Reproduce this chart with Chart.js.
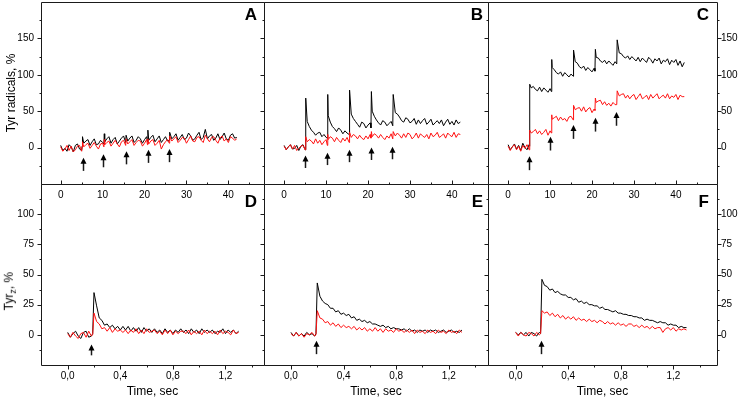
<!DOCTYPE html>
<html>
<head>
<meta charset="utf-8">
<script src="https://cdn.jsdelivr.net/npm/chart.js@4.4.1/dist/chart.umd.min.js"></script>
<style>
  body { margin: 0; background: #fff; }
  #fig { position: relative; width: 738px; height: 401px; overflow: hidden; font-family: 'Liberation Sans', Arial, sans-serif; color: #000; }
  #fig canvas { position: absolute; left: 0; top: 0; }
  .tag { position: absolute; font-weight: bold; font-size: 17px; line-height: 17px; }
  #tyrz { position: absolute; left: -39px; top: 282px; width: 100px; text-align: center; font-size: 12px; line-height: 14px; transform: rotate(-90deg); }
  #tyrz sub { font-size: 9px; }
</style>
</head>
<body>
<div id="fig">
  <canvas id="cA" width="738" height="401"></canvas>
  <canvas id="cB" width="738" height="401"></canvas>
  <canvas id="cC" width="738" height="401"></canvas>
  <canvas id="cD" width="738" height="401"></canvas>
  <canvas id="cE" width="738" height="401"></canvas>
  <canvas id="cF" width="738" height="401"></canvas>
  <div class="tag" style="right:481px; top:6px">A</div>
  <div class="tag" style="right:255px; top:6px">B</div>
  <div class="tag" style="right:29px; top:6px">C</div>
  <div class="tag" style="right:481px; top:193px">D</div>
  <div class="tag" style="right:255px; top:193px">E</div>
  <div class="tag" style="right:29px; top:193px">F</div>
  <div id="tyrz">Tyr<sub>z</sub>, %</div>
</div>
<script>
// time axis of the flash series (sec), extra points around each flash
const slowTime = [
  0, 0.5, 1, 1.5, 2, 2.5, 3, 3.5, 4, 4.5, 5, 5.1,
  5.2, 5.5, 6, 6.5, 7, 7.5, 8, 8.5, 9, 9.5, 10, 10.3,
  10.4, 10.5, 11, 11.5, 12, 12.5, 13, 13.5, 14, 14.5, 15, 15.5,
  15.6, 16, 16.5, 17, 17.5, 18, 18.5, 19, 19.5, 20, 20.5, 20.7,
  20.8, 21, 21.5, 22, 22.5, 23, 23.5, 24, 24.5, 25, 25.5, 25.9,
  26, 26.5, 27, 27.5, 28, 28.5, 29, 29.5, 30, 30.5, 31, 31.5, 32, 32.5, 33, 33.5, 34,
  34.5, 35, 35.5, 36, 36.5, 37, 37.5, 38, 38.5, 39, 39.5, 40, 40.5, 41, 41.5, 42
];

const aBlack = [
  3, -4, -1, -5, 4, 1, -6, 3, 5, -2, -4, 2,
  15, 6, 9, 11, 3, 8, 12, 4, 5, 10, 7, 5,
  19, 8, 12, 15, 6, 11, 14, 5, 9, 13, 16, 7,
  17, 9, 13, 16, 7, 10, 15, 12, 6, 11, 15, 8,
  24, 10, 14, 17, 8, 12, 16, 7, 11, 15, 9, 10,
  21, 12, 15, 19, 10, 14, 18, 11, 13, 20, 16, 10, 12, 17, 21, 11, 14,
  25, 12, 16, 18, 10, 13, 19, 11, 15, 20, 12, 10, 17, 19, 13, 14
];
const aRed = [
  1, -5, -2, 3, -4, 2, -6, -3, 2, 3, -5, 0,
  8, 1, 4, 6, -1, 3, 7, 2, -2, 5, 6, 1,
  11, 4, 7, 9, 2, 6, 10, 5, 1, 8, 10, 3,
  12, 5, 8, 11, 3, 7, 10, 9, 2, 6, 11, 4,
  12, 5, 9, 11, 3, 6, 10, -2, 4, 8, 11, 6,
  16, 9, 12, 15, 7, 10, 14, 13, 6, 11, 16, 9, 8, 14, 15, 10, 7,
  17, 12, 8, 14, 15, 10, 6, 13, 16, 9, 12, 7, 15, 13, 10, 12
];
const bBlack = [
  3, -3, 1, 4, -2, -1, 3, -4, 2, 4, -3, 1,
  68, 36, 29, 24, 21, 17, 20, 21, 15, 18, 14, 13,
  73, 44, 35, 29, 26, 22, 27, 24, 19, 23, 20, 18,
  79, 46, 40, 36, 32, 28, 35, 33, 27, 31, 34, 27,
  77, 50, 43, 38, 34, 31, 37, 35, 30, 33, 36, 30,
  73, 48, 46, 42, 37, 35, 41, 39, 34, 36, 40, 32, 38, 33, 37, 40, 32,
  35, 39, 31, 34, 37, 33, 38, 30, 35, 39, 32, 36, 31, 38, 33, 35
];
const bRed = [
  2, -3, 1, 4, -2, 3, -4, -1, 2, 3, -3, 0,
  15, 8, 11, 9, 5, 12, 6, 10, 4, 8, 11, 3,
  18, 11, 15, 13, 8, 14, 10, 7, 13, 9, 14, 7,
  21, 14, 18, 16, 12, 17, 13, 11, 16, 12, 18, 13,
  22, 15, 19, 17, 13, 18, 14, 11, 16, 13, 19, 12,
  22, 16, 20, 17, 13, 19, 14, 20, 18, 12, 15, 20, 13, 19, 16, 14, 18,
  12, 20, 15, 17, 21, 14, 16, 19, 13, 20, 17, 15, 21, 14, 19, 18
];
const cBlack = [
  4, -3, 1, 5, -2, 3, -4, 6, 0, -3, 4, 2,
  87, 82, 84, 80, 78, 83, 77, 82, 79, 76, 81, 77,
  121, 110, 107, 103, 101, 104, 98, 103, 100, 97, 101, 98,
  134, 118, 116, 111, 109, 112, 106, 110, 107, 104, 109, 105,
  135, 124, 123, 119, 117, 120, 115, 119, 116, 113, 118, 115,
  148, 130, 129, 125, 123, 126, 121, 125, 122, 119, 124, 118, 123, 120, 117, 124, 121,
  116, 122, 119, 123, 115, 120, 118, 122, 114, 120, 117, 121, 113, 119, 111, 117
];
const cRed = [
  2, -4, 1, 4, -3, 2, -5, 3, -1, 4, -3, 1,
  24, 20, 22, 25, 19, 23, 18, 21, 25, 17, 23, 20,
  45, 39, 41, 43, 37, 42, 38, 40, 36, 42, 43, 38,
  58, 52, 54, 55, 50, 56, 49, 53, 55, 48, 53, 51,
  68, 62, 64, 65, 59, 63, 58, 61, 57, 62, 59, 59,
  78, 71, 73, 74, 68, 72, 67, 71, 73, 66, 70, 74, 67, 69, 72, 66, 73,
  68, 71, 74, 67, 70, 72, 68, 74, 67, 71, 69, 73, 66, 72, 70, 70
];

// time axis of the single flash kinetics (sec)
const fastTime = [
  0, 0.02, 0.04, 0.06, 0.08, 0.1, 0.12, 0.14, 0.16, 0.18, 0.19,
  0.2, 0.22, 0.24, 0.26, 0.28, 0.3, 0.32, 0.34, 0.36, 0.38, 0.4, 0.42,
  0.44, 0.46, 0.48, 0.5, 0.52, 0.54, 0.56, 0.58, 0.6, 0.62, 0.64,
  0.66, 0.68, 0.7, 0.72, 0.74, 0.76, 0.78, 0.8, 0.82, 0.84, 0.86,
  0.88, 0.9, 0.92, 0.94, 0.96, 0.98, 1, 1.02, 1.04, 1.06, 1.08,
  1.1, 1.12, 1.14, 1.16, 1.18, 1.2, 1.22, 1.24, 1.26, 1.28, 1.3
];
const dBlack = [
  2, -2, 1, 3, -1, -3, 2, 3, -2, -1, 1,
  35, 24, 14, 12, 8, 9, 6, 8, 5, 7, 4, 7,
  4, 7, 3, 6, 3, 6, 2, 6, 3, 5, 2,
  5, 2, 4, 1, 5, 2, 4, 1, 4, 2, 5,
  2, 4, 1, 5, 2, 4, 1, 5, 2, 4, 2,
  4, 1, 3, 2, 5, 1, 4, 2, 4, 1, 3
];
const dRed = [
  1, -2, 2, -1, -3, 1, 2, -2, 3, -1, 0,
  18, 11, 9, 5, 6, 3, 6, 2, 5, 3, 4, 2,
  4, 1, 4, 2, 5, 1, 4, 1, 5, 2, 3,
  4, 1, 3, 0, 4, 1, 4, 0, 3, 1, 3,
  3, 1, 4, 0, 3, 1, 3, 0, 4, 1, 3,
  1, 3, 0, 4, 1, 3, 2, 0, 4, 1, 2
];
const eBlack = [
  2, -1, 2, -1, 1, -1, 2, 0, 1, -1, 1,
  43, 32, 28, 26, 25, 22, 22, 19, 20, 17, 18, 16,
  17, 14, 15, 12, 13, 11, 12, 10, 11, 9, 9,
  8, 7, 8, 6, 7, 5, 6, 5, 5, 4, 5,
  3, 5, 3, 4, 2, 4, 3, 4, 2, 4, 3,
  4, 2, 3, 4, 2, 3, 4, 2, 3, 2, 4
];
const eRed = [
  1, -1, 2, -1, 1, -2, 1, 0, 2, -1, 0,
  20, 14, 13, 10, 11, 8, 10, 7, 9, 6, 8, 6,
  7, 5, 7, 4, 6, 4, 6, 3, 5, 3, 6,
  3, 5, 2, 5, 3, 4, 2, 5, 3, 4, 2,
  4, 2, 4, 1, 4, 2, 3, 1, 4, 2, 3,
  1, 4, 2, 3, 1, 4, 2, 3, 1, 4, 2
];
const fBlack = [
  2, 0, 2, 0, 2, -1, 2, 1, -1, 2, 1,
  46, 41, 40, 37, 38, 35, 36, 34, 33, 33, 31, 31,
  29, 30, 27, 28, 26, 27, 25, 25, 24, 24, 22,
  23, 21, 21, 20, 19, 20, 18, 18, 17, 17, 16,
  16, 15, 15, 14, 14, 12, 13, 12, 12, 11, 10,
  11, 10, 10, 8, 9, 8, 8, 6, 7, 6, 6
];
const fRed = [
  2, -1, 2, 0, -1, 2, 1, -1, 2, 0, 1,
  20, 18, 19, 16, 18, 15, 17, 14, 16, 13, 15, 13,
  15, 12, 14, 12, 13, 11, 13, 11, 12, 10, 12,
  11, 9, 11, 9, 10, 8, 10, 8, 9, 7, 9,
  9, 7, 8, 6, 8, 6, 7, 5, 7, 5, 6,
  6, 2, 5, 6, 4, 6, 3, 5, 4, 5, 4
];

// ticks
const slowTicks = [0, 10, 20, 30, 40];
const slowMinor = [5, 15, 25, 35, 45];
const radTicks = [0, 50, 100, 150];
const radMinor = [-25, 25, 75, 125, 175];
const fastTicks = [0, 0.4, 0.8, 1.2];
const fastMinor = [0.2, 0.6, 1.0, 1.4];
const tyrTicks = [0, 25, 50, 75, 100];
const tyrMinor = [-12.5, 12.5, 37.5, 62.5, 87.5, 112.5];

// flash arrows: time and tip value
const aArrowT = [5.25, 10.2, 15.6, 20.9, 25.9], aArrowY = [-14, -9, -5, -3, -2];
const bArrowT = [4.9, 10.1, 15.45, 20.6, 25.8], bArrowY = [-11, -7, -3, 0, 1];
const cArrowT = [4.9, 10.0, 15.5, 20.7, 25.7], cArrowY = [-12, 15, 31, 41, 49];
const dArrowT = [0.18], dArrowY = [-8];
const eArrowT = [0.19], eArrowY = [-5];
const fArrowT = [0.19], fArrowY = [-5];

const W = 738, H = 401;
Chart.defaults.font.family = "'Liberation Sans', Arial, sans-serif";
Chart.defaults.font.size = 10;
Chart.defaults.color = '#000';

const framePlugin = {
  id: 'frame',
  afterDatasetsDraw(chart, args, o) {
    const {ctx, chartArea: a, scales: {x, y}} = chart;
    const L = Math.round(a.left) + 0.5, R = Math.round(a.right) + 0.5;
    const T = Math.round(a.top) + 0.5, B = Math.round(a.bottom) + 0.5;
    const inX = v => v > x.min && v < x.max;
    const inY = v => v > y.min && v < y.max;
    ctx.save();
    ctx.strokeStyle = '#1a1a1a';
    ctx.lineWidth = 1;
    ctx.beginPath();
    ctx.rect(L, T, R - L, B - T);
    const yTick = (v, len) => {
      const py = Math.round(y.getPixelForValue(v)) + 0.5;
      ctx.moveTo(L - len, py); ctx.lineTo(L, py);
      if (o.right) { ctx.moveTo(R, py); ctx.lineTo(R + len, py); }
    };
    o.yt.filter(inY).forEach(v => yTick(v, 4));
    o.ym.filter(inY).forEach(v => yTick(v, 2));
    const xTick = (v, len) => {
      const px = Math.round(x.getPixelForValue(v)) + 0.5;
      ctx.moveTo(px, B); ctx.lineTo(px, o.up ? B - len : B + len);
    };
    o.xt.filter(inX).forEach(v => xTick(v, 4));
    o.xm.filter(inX).forEach(v => xTick(v, 2));
    ctx.stroke();

    // flash arrows
    ctx.fillStyle = '#000';
    ctx.lineWidth = 1.5;
    o.arrowT.forEach((t, i) => {
      const px = Math.round(x.getPixelForValue(t)) + 0.5;
      const tip = y.getPixelForValue(o.arrowY[i]);
      const tail = y.getPixelForValue(o.arrowY[i] - o.arrowLen);
      ctx.beginPath();
      ctx.moveTo(px, tail); ctx.lineTo(px, tip + 5);
      ctx.stroke();
      ctx.beginPath();
      ctx.moveTo(px, tip); ctx.lineTo(px - 3, tip + 6); ctx.lineTo(px + 3, tip + 6);
      ctx.closePath();
      ctx.fill();
    });
    ctx.restore();
  }
};

const fmtFast = v => v.toFixed(1).replace('.', ',');

const panels = [
  {id: 'cA', box: [41, 264, 2, 184], xr: [-4.7, 48.5], yr: [-50, 200], t: slowTime, black: aBlack, red: aRed,
   xt: slowTicks, xm: slowMinor, yt: radTicks, ym: radMinor, ySide: 'left', yTitle: 'Tyr radicals, %', top: true,
   arrowT: aArrowT, arrowY: aArrowY, arrowLen: 18},
  {id: 'cB', box: [264, 488, 2, 184], xr: [-4.8, 48.6], yr: [-50, 200], t: slowTime, black: bBlack, red: bRed,
   xt: slowTicks, xm: slowMinor, yt: radTicks, ym: radMinor, ySide: 'none', top: true,
   arrowT: bArrowT, arrowY: bArrowY, arrowLen: 17},
  {id: 'cC', box: [488, 717, 2, 184], xr: [-4.8, 49.8], yr: [-50, 200], t: slowTime, black: cBlack, red: cRed,
   xt: slowTicks, xm: slowMinor, yt: radTicks, ym: radMinor, ySide: 'right', top: true,
   arrowT: cArrowT, arrowY: cArrowY, arrowLen: 19},
  {id: 'cD', box: [41, 264, 184, 365], xr: [-0.203, 1.493], yr: [-25, 125], t: fastTime, black: dBlack, red: dRed,
   xt: fastTicks, xm: fastMinor, yt: tyrTicks, ym: tyrMinor, ySide: 'left', top: false,
   arrowT: dArrowT, arrowY: dArrowY, arrowLen: 9},
  {id: 'cE', box: [264, 488, 184, 365], xr: [-0.205, 1.498], yr: [-25, 125], t: fastTime, black: eBlack, red: eRed,
   xt: fastTicks, xm: fastMinor, yt: tyrTicks, ym: tyrMinor, ySide: 'none', top: false,
   arrowT: eArrowT, arrowY: eArrowY, arrowLen: 11},
  {id: 'cF', box: [488, 717, 184, 365], xr: [-0.21, 1.532], yr: [-25, 125], t: fastTime, black: fBlack, red: fRed,
   xt: fastTicks, xm: fastMinor, yt: tyrTicks, ym: tyrMinor, ySide: 'right', top: false,
   arrowT: fArrowT, arrowY: fArrowY, arrowLen: 11}
];

panels.forEach(p => {
  const [l, r, t, b] = p.box;
  const yW = p.ySide === 'left' ? 41 : p.ySide === 'right' ? 21 : 0;
  const xH = p.top ? 20 : 36;
  new Chart(document.getElementById(p.id), {
    type: 'line',
    data: {
      datasets: [{
        data: p.t.map((x, i) => ({x: x, y: p.red[i]})),
        borderColor: '#ff1010',
        borderWidth: 1,
        pointRadius: 0
      }, {
        data: p.t.map((x, i) => ({x: x, y: p.black[i]})),
        borderColor: '#000000',
        borderWidth: 1,
        pointRadius: 0
      }]
    },
    options: {
      responsive: false,
      animation: false,
      events: [],
      layout: {
        padding: {
          left: l - (p.ySide === 'left' ? yW : 0),
          right: W - r - (p.ySide === 'right' ? yW : 0),
          top: t,
          bottom: H - b - xH
        }
      },
      plugins: {
        legend: {display: false},
        tooltip: {enabled: false},
        frame: {xt: p.xt, xm: p.xm, yt: p.yt, ym: p.ym, up: p.top, right: p.ySide === 'right',
                arrowT: p.arrowT, arrowY: p.arrowY, arrowLen: p.arrowLen}
      },
      scales: {
        x: {
          type: 'linear',
          min: p.xr[0],
          max: p.xr[1],
          grid: {display: false, drawTicks: false},
          border: {display: false},
          ticks: {
            padding: 5,
            maxRotation: 0,
            autoSkip: false,
            callback: v => p.top ? String(v) : fmtFast(v)
          },
          afterBuildTicks: s => { s.ticks = p.xt.map(v => ({value: v})); },
          afterFit: s => { s.height = xH; s.paddingLeft = 0; s.paddingRight = 0; },
          title: {
            display: !p.top,
            text: 'Time, sec',
            font: {size: 12},
            padding: {top: 0, bottom: 2}
          }
        },
        y: {
          position: p.ySide === 'right' ? 'right' : 'left',
          min: p.yr[0],
          max: p.yr[1],
          grid: {display: false, drawTicks: false},
          border: {display: false},
          ticks: {
            display: p.ySide !== 'none',
            padding: p.ySide === 'right' ? 4 : 7,
            autoSkip: false
          },
          afterBuildTicks: s => { s.ticks = p.yt.map(v => ({value: v})); },
          afterFit: s => { s.width = yW; s.paddingTop = 0; s.paddingBottom = 0; },
          title: {
            display: !!p.yTitle,
            text: p.yTitle || '',
            font: {size: 12},
            padding: {top: 4, bottom: 0}
          }
        }
      }
    },
    plugins: [framePlugin]
  });
});
</script>
</body>
</html>
